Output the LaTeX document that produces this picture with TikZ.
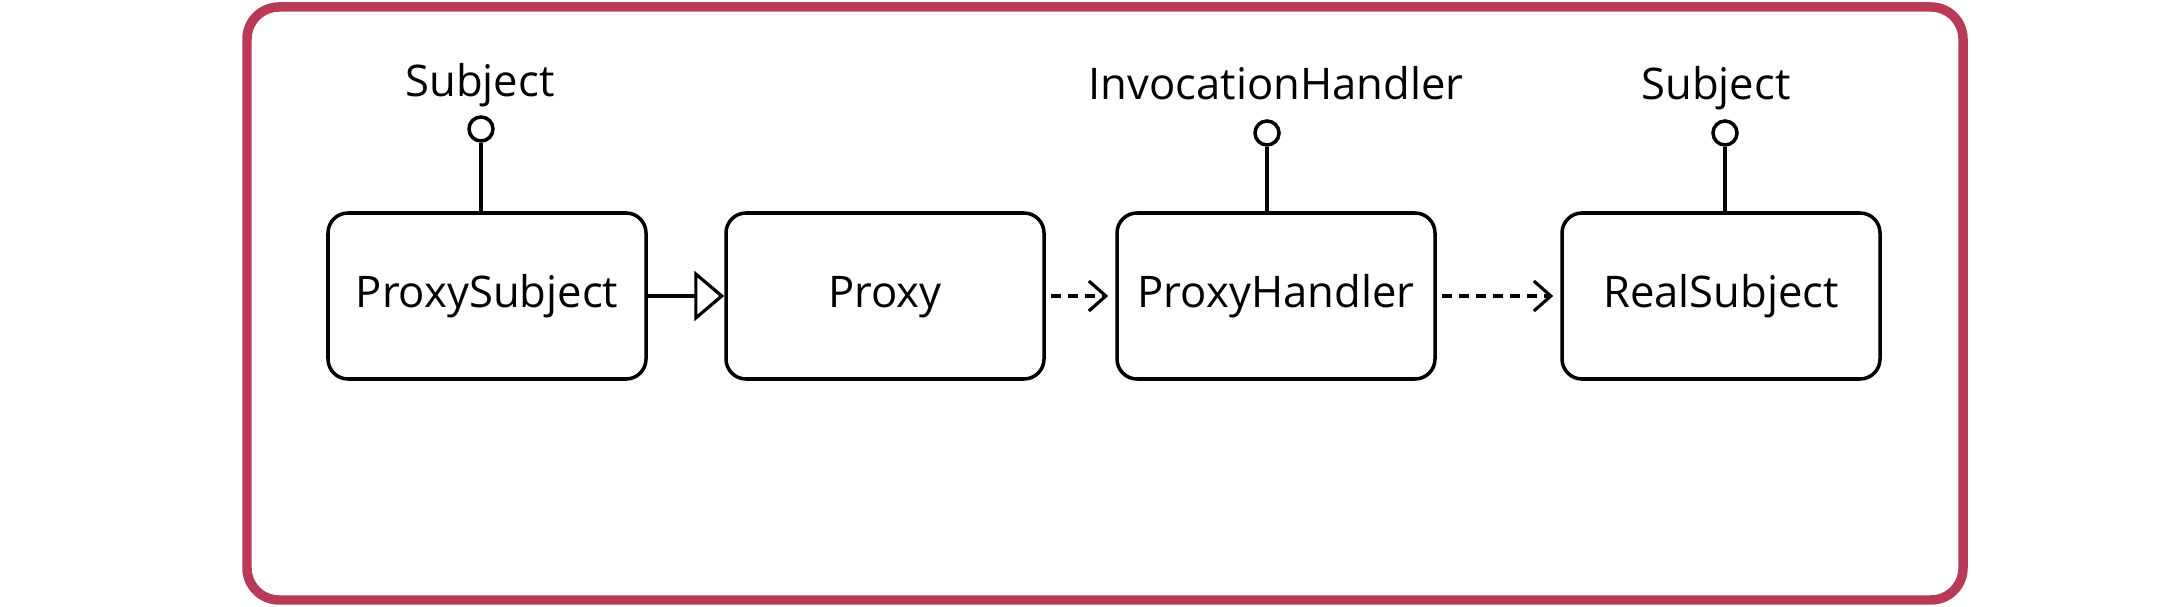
\documentclass[tikz,border=0pt]{standalone}
\usepackage{fontspec}
\setmainfont{Open Sans}
\usetikzlibrary{arrows.meta}
\definecolor{frameRed}{RGB}{185,58,88}

\begin{document}
\begin{tikzpicture}[
  cls/.style={draw, line width=1pt, rounded corners=0.2cm, minimum width=3.18cm,
    minimum height=1.66cm, text height=0.86em, text depth=0.2em,
    font=\fontsize{12.4}{15}\selectfont},
  lbl/.style={font=\fontsize{12.4}{15}\selectfont, inner sep=0pt, anchor=base},
  iface/.style={draw, circle, line width=1pt, minimum size=0.24cm, inner sep=0pt},
  realize/.style={-{Triangle[open,length=0.3cm,width=0.5cm]}, line width=0.9pt},
  dep/.style={-{Straight Barb[length=0.17cm,width=0.3cm]}, line width=0.9pt,
    dash pattern=on 0.1cm off 0.07cm, shorten <=1.5pt, shorten >=2pt},
]
\useasboundingbox (0,0) rectangle (21.8,6.06);
% outer frame
\draw[frameRed, line width=2.7pt, rounded corners=0.32cm] (2.47,0.06) rectangle (19.63,5.99);

% classes
\node[cls] (ps) at (4.87,3.10) {ProxySubject};
\node[cls] (proxy) at (8.85,3.10) {Proxy};
\node[cls] (handler) at (12.76,3.10) {ProxyHandler};
\node[cls] (real) at (17.21,3.10) {RealSubject};

% provided interfaces (lollipops)
\node[iface] (ps-if) at (4.81,4.77) {};
\node[iface] (handler-if) at (12.67,4.73) {};
\node[iface] (real-if) at (17.25,4.73) {};
\draw[line width=1pt] (ps-if) -- (ps-if |- ps.north);
\draw[line width=1pt] (handler-if) -- (handler-if |- handler.north);
\draw[line width=1pt] (real-if) -- (real-if |- real.north);
% interface names
\node[lbl] (ps-name) at (4.80,5.09) {Subject};
\node[lbl] (handler-name) at (12.76,5.06) {InvocationHandler};
\node[lbl] (real-name) at (17.16,5.06) {Subject};

% relations
\draw[realize] (ps.east) -- (proxy.west);
\draw[dep] (proxy) -- (handler);
\draw[dep] (handler) -- (real);
\end{tikzpicture}
\end{document}
